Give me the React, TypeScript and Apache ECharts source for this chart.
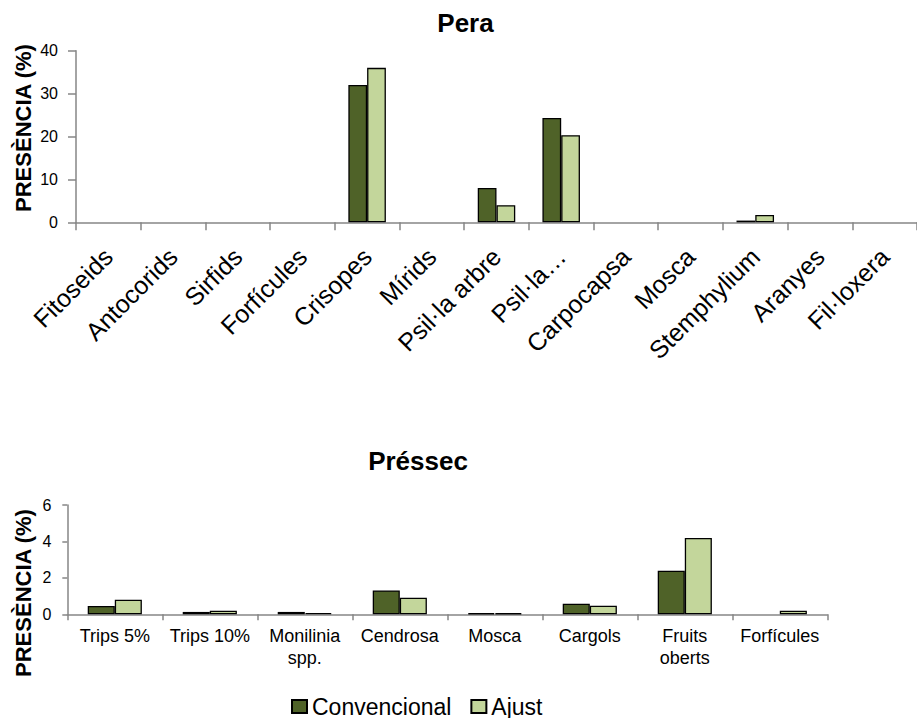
import React, { useEffect, useRef } from "react";
import * as echarts from "echarts";

const peraCategories = ["Fitoseids", "Antocorids", "Sirfids", "Forfícules", "Crisopes", "Mírids", "Psil·la arbre", "Psil·la…", "Carpocapsa", "Mosca", "Stemphylium", "Aranyes", "Fil·loxera"];
const peraConvencional = [0, 0, 0, 0, 32, 0, 8, 24.3, 0, 0, 0.4, 0, 0];
const peraAjust = [0, 0, 0, 0, 36, 0, 4, 20.3, 0, 0, 1.7, 0, 0];

const pressecCategories = ["Trips 5%", "Trips 10%", "Monilinia\nspp.", "Cendrosa", "Mosca", "Cargols", "Fruits\noberts", "Forfícules"];
const pressecConvencional = [0.46, 0.13, 0.13, 1.31, 0.06, 0.58, 2.39, 0];
const pressecAjust = [0.8, 0.2, 0.07, 0.91, 0.06, 0.47, 4.19, 0.2];

const seriesNames = ["Convencional", "Ajust"];
const peraTicks = { min: 0, max: 40, interval: 10 };
const pressecTicks = { min: 0, max: 6, interval: 2 };

const FONT = "'Liberation Sans', Arial, sans-serif";
const AXIS_COLOR = "#868686";
const DARK = "#4F6228";
const LIGHT = "#C3D69B";

export default function App() {
  const ref = useRef<HTMLDivElement>(null);
  useEffect(() => {
    if (!ref.current) return;
    const chart = echarts.init(ref.current, null, { renderer: "svg" });
    const axisLine = { show: true, lineStyle: { color: AXIS_COLOR, width: 1.5 } };
    const nz = (arr: number[]) => arr.map((v) => (v === 0 ? "-" : v));
    const barStyle = (color: string) => ({ color, borderColor: "#000", borderWidth: 1.3 });
    chart.setOption({
      animation: false,
      textStyle: { fontFamily: FONT },
      grid: [
        { left: 76, top: 50.7, width: 851.5, height: 171.6, containLabel: false },
        { left: 67.3, top: 505, width: 760, height: 109.3, containLabel: false },
      ],
      legend: {
        data: seriesNames,
        left: 291,
        top: 695,
        padding: 0,
        itemWidth: 15,
        itemHeight: 13,
        itemGap: 19,
        icon: "rect",
        textStyle: { fontSize: 23, lineHeight: 23, color: "#000", fontFamily: FONT },
      },
      xAxis: [
        {
          type: "category",
          gridIndex: 0,
          data: peraCategories,
          axisLine,
          axisTick: { show: true, length: 8, alignWithLabel: false, lineStyle: { color: AXIS_COLOR, width: 1.5 } },
          axisLabel: { interval: 0, rotate: 45, margin: 30, fontSize: 25, color: "#000", fontFamily: FONT },
        },
        {
          type: "category",
          gridIndex: 1,
          data: pressecCategories,
          axisLine,
          axisTick: { show: true, length: 6, lineStyle: { color: AXIS_COLOR, width: 1.5 } },
          axisLabel: { interval: 0, margin: 11, fontSize: 18, lineHeight: 22, color: "#000", fontFamily: FONT },
        },
      ],
      yAxis: [
        {
          type: "value",
          gridIndex: 0,
          ...peraTicks,
          splitLine: { show: false },
          axisLine,
          axisTick: { show: true, length: 8, lineStyle: { color: AXIS_COLOR, width: 1.5 } },
          axisLabel: { margin: 18, fontSize: 16, color: "#000", fontFamily: FONT },
        },
        {
          type: "value",
          gridIndex: 1,
          ...pressecTicks,
          splitLine: { show: false },
          axisLine,
          axisTick: { show: true, length: 5, lineStyle: { color: AXIS_COLOR, width: 1.5 } },
          axisLabel: { margin: 16, fontSize: 16, color: "#000", fontFamily: FONT },
        },
      ],
      series: [
        { name: seriesNames[0], type: "bar", xAxisIndex: 0, yAxisIndex: 0, data: nz(peraConvencional), barGap: "0%", barCategoryGap: "42%", itemStyle: barStyle(DARK) },
        { name: seriesNames[1], type: "bar", xAxisIndex: 0, yAxisIndex: 0, data: nz(peraAjust), barGap: "0%", barCategoryGap: "42%", itemStyle: barStyle(LIGHT) },
        { name: seriesNames[0], type: "bar", xAxisIndex: 1, yAxisIndex: 1, data: nz(pressecConvencional), barGap: "0%", barCategoryGap: "43%", itemStyle: barStyle(DARK) },
        { name: seriesNames[1], type: "bar", xAxisIndex: 1, yAxisIndex: 1, data: nz(pressecAjust), barGap: "0%", barCategoryGap: "43%", itemStyle: barStyle(LIGHT) },
      ],
      graphic: [
        { type: "text", x: 465.5, y: 22.7, style: { text: "Pera", font: `bold 26px ${FONT}`, fill: "#000", textAlign: "center", textVerticalAlign: "middle" } },
        { type: "text", x: 418, y: 461, style: { text: "Préssec", font: `bold 26px ${FONT}`, fill: "#000", textAlign: "center", textVerticalAlign: "middle" } },
        { type: "text", x: 23.5, y: 128, rotation: Math.PI / 2, style: { text: "PRESÈNCIA (%)", font: `bold 22px ${FONT}`, fill: "#000", textAlign: "center", textVerticalAlign: "middle" } },
        { type: "text", x: 23.5, y: 593, rotation: Math.PI / 2, style: { text: "PRESÈNCIA (%)", font: `bold 22px ${FONT}`, fill: "#000", textAlign: "center", textVerticalAlign: "middle" } },
      ],
    });
    return () => chart.dispose();
  }, []);
  return <div ref={ref} style={{ position: "absolute", left: 0, top: 0, width: 917, height: 718, background: "#fff" }} />;
}
